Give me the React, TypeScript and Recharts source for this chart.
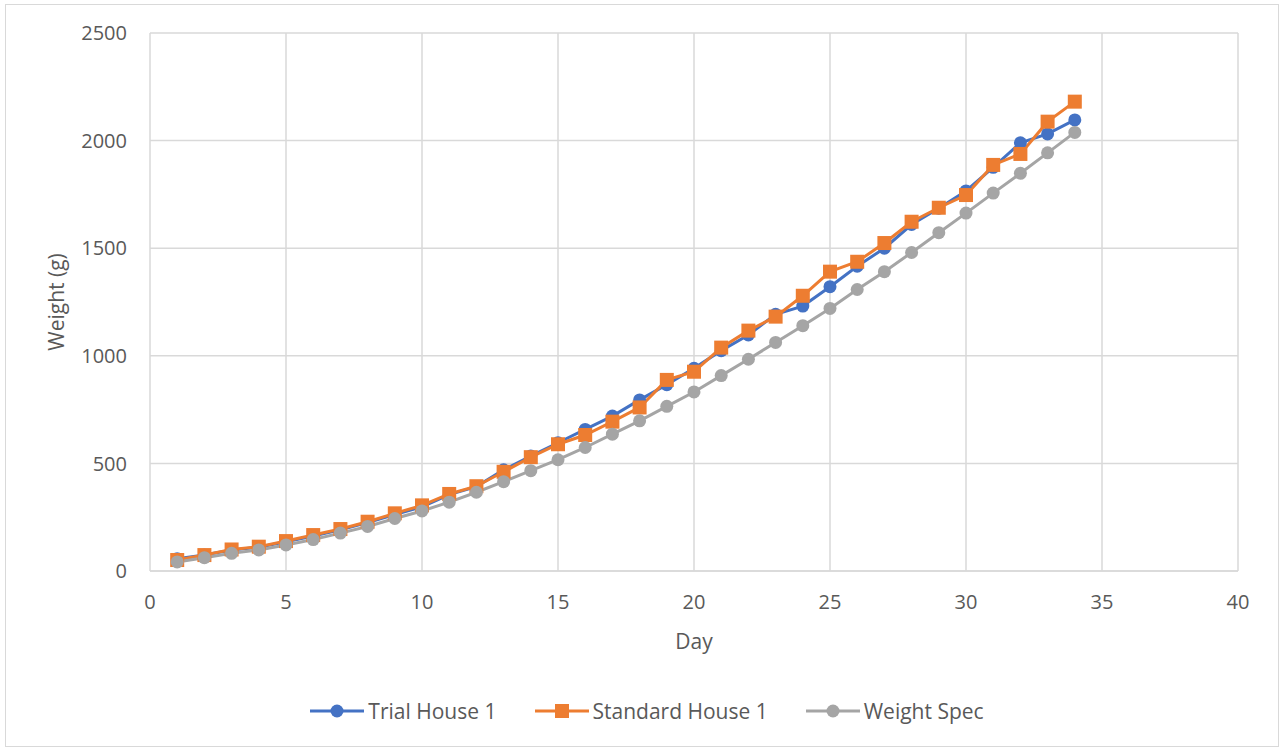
import React from 'react';
import { CartesianGrid, Legend, Line, LineChart, XAxis, YAxis } from 'recharts';

const days = [
  1, 2, 3, 4, 5, 6, 7, 8, 9, 10, 11, 12, 13, 14, 15, 16, 17, 18, 19, 20, 21, 22, 23, 24, 25, 26, 27,
  28, 29, 30, 31, 32, 33, 34,
];

const trialHouse1 = [
  57, 74, 98, 110, 136, 163, 192, 225, 262, 298, 355, 392, 470, 534, 596, 658, 720, 795, 866, 942,
  1024, 1097, 1193, 1231, 1321, 1416, 1500, 1610, 1686, 1766, 1876, 1990, 2031, 2096,
];

const standardHouse1 = [
  51, 74, 100, 113, 139, 167, 195, 229, 268, 305, 358, 394, 461, 529, 589, 632, 694, 760, 888, 926,
  1038, 1117, 1182, 1279, 1391, 1437, 1524, 1623, 1688, 1747, 1887, 1938, 2088, 2181,
];

const weightSpec = [
  42, 62, 82, 98, 121, 146, 176, 207, 244, 279, 320, 366, 415, 466, 517, 574, 636, 698, 765, 832,
  908, 984, 1062, 1140, 1220, 1308, 1391, 1480, 1572, 1663, 1756, 1848, 1943, 2038,
];

const xTicks = [0, 5, 10, 15, 20, 25, 30, 35, 40];
const yTicks = [0, 500, 1000, 1500, 2000, 2500];

const series = [
  { key: 'trial', name: 'Trial House 1', color: '#4472C4', shape: 'circle' },
  { key: 'standard', name: 'Standard House 1', color: '#ED7D31', shape: 'square' },
  { key: 'spec', name: 'Weight Spec', color: '#A5A5A5', shape: 'circle' },
];

const data = days.map((day, i) => ({
  day,
  trial: trialHouse1[i],
  standard: standardHouse1[i],
  spec: weightSpec[i],
}));

const FONT = '"Open Sans", "Noto Sans", sans-serif';
const TEXT = '#595959';
const GRID = '#d9d9d9';

function SquareDot(props: any) {
  const { cx, cy, index } = props;
  if (cx == null || cy == null) return null;
  return <rect key={`sq-${index}`} x={cx - 7} y={cy - 7} width={14} height={14} fill="#ED7D31" />;
}

function LegendContent() {
  return (
    <div
      style={{
        display: 'flex',
        justifyContent: 'center',
        alignItems: 'center',
        gap: 38,
        height: 30,
        fontFamily: FONT,
        fontSize: 21,
        color: TEXT,
        paddingLeft: 56,
      }}
    >
      {series.map((s) => (
        <div key={s.key} style={{ display: 'flex', alignItems: 'center', gap: 4 }}>
          <svg width={54} height={16}>
            <line x1={0} y1={8} x2={54} y2={8} stroke={s.color} strokeWidth={3} />
            {s.shape === 'square' ? (
              <rect x={20} y={1} width={14} height={14} fill={s.color} />
            ) : (
              <circle cx={27} cy={8} r={6.5} fill={s.color} />
            )}
          </svg>
          <span>{s.name}</span>
        </div>
      ))}
    </div>
  );
}

function YTitle(props: any) {
  const vb = props.viewBox;
  const x = vb.x + 56;
  const y = vb.y + vb.height / 2;
  return (
    <text
      x={x}
      y={y}
      transform={`rotate(-90, ${x}, ${y})`}
      textAnchor="middle"
      dominantBaseline="central"
      fill={TEXT}
      fontSize={21}
      fontFamily={FONT}
    >
      Weight (g)
    </text>
  );
}

function XTitle(props: any) {
  const vb = props.viewBox;
  return (
    <text
      x={vb.x + vb.width / 2}
      y={vb.y + 70}
      textAnchor="middle"
      dominantBaseline="central"
      fill={TEXT}
      fontSize={21}
      fontFamily={FONT}
    >
      Day
    </text>
  );
}

export default function App() {
  return (
    <div style={{ position: 'absolute', left: 0, top: 0, width: 1282, height: 749, background: '#fff' }}>
      <div
        style={{
          position: 'absolute',
          left: 5,
          top: 4,
          width: 1272,
          height: 741,
          border: `1px solid ${GRID}`,
        }}
      />
      <LineChart
        width={1282}
        height={749}
        data={data}
        margin={{ top: 33, right: 44, bottom: 23, left: 0 }}
        style={{ fontFamily: FONT }}
      >
        <CartesianGrid stroke={GRID} strokeWidth={1.5} />
        <XAxis
          dataKey="day"
          type="number"
          domain={[0, 40]}
          ticks={xTicks}
          height={125}
          tickLine={false}
          tickMargin={18}
          axisLine={{ stroke: GRID, strokeWidth: 1.5 }}
          tick={{ fill: TEXT, fontSize: 20, fontFamily: FONT }}
          label={<XTitle />}
        />
        <YAxis
          type="number"
          domain={[0, 2500]}
          ticks={yTicks}
          width={150}
          tickLine={false}
          tickMargin={17}
          axisLine={false}
          tick={{ fill: TEXT, fontSize: 20, fontFamily: FONT }}
          label={<YTitle />}
        />
        <Legend verticalAlign="bottom" height={30} content={<LegendContent />} />
        <Line
          dataKey="trial"
          name="Trial House 1"
          stroke="#4472C4"
          strokeWidth={3}
          dot={{ r: 6.5, fill: '#4472C4', stroke: '#4472C4', strokeWidth: 0 }}
          isAnimationActive={false}
        />
        <Line
          dataKey="standard"
          name="Standard House 1"
          stroke="#ED7D31"
          strokeWidth={3}
          dot={SquareDot}
          isAnimationActive={false}
        />
        <Line
          dataKey="spec"
          name="Weight Spec"
          stroke="#A5A5A5"
          strokeWidth={3}
          dot={{ r: 6.5, fill: '#A5A5A5', stroke: '#A5A5A5', strokeWidth: 0 }}
          isAnimationActive={false}
        />
      </LineChart>
    </div>
  );
}
